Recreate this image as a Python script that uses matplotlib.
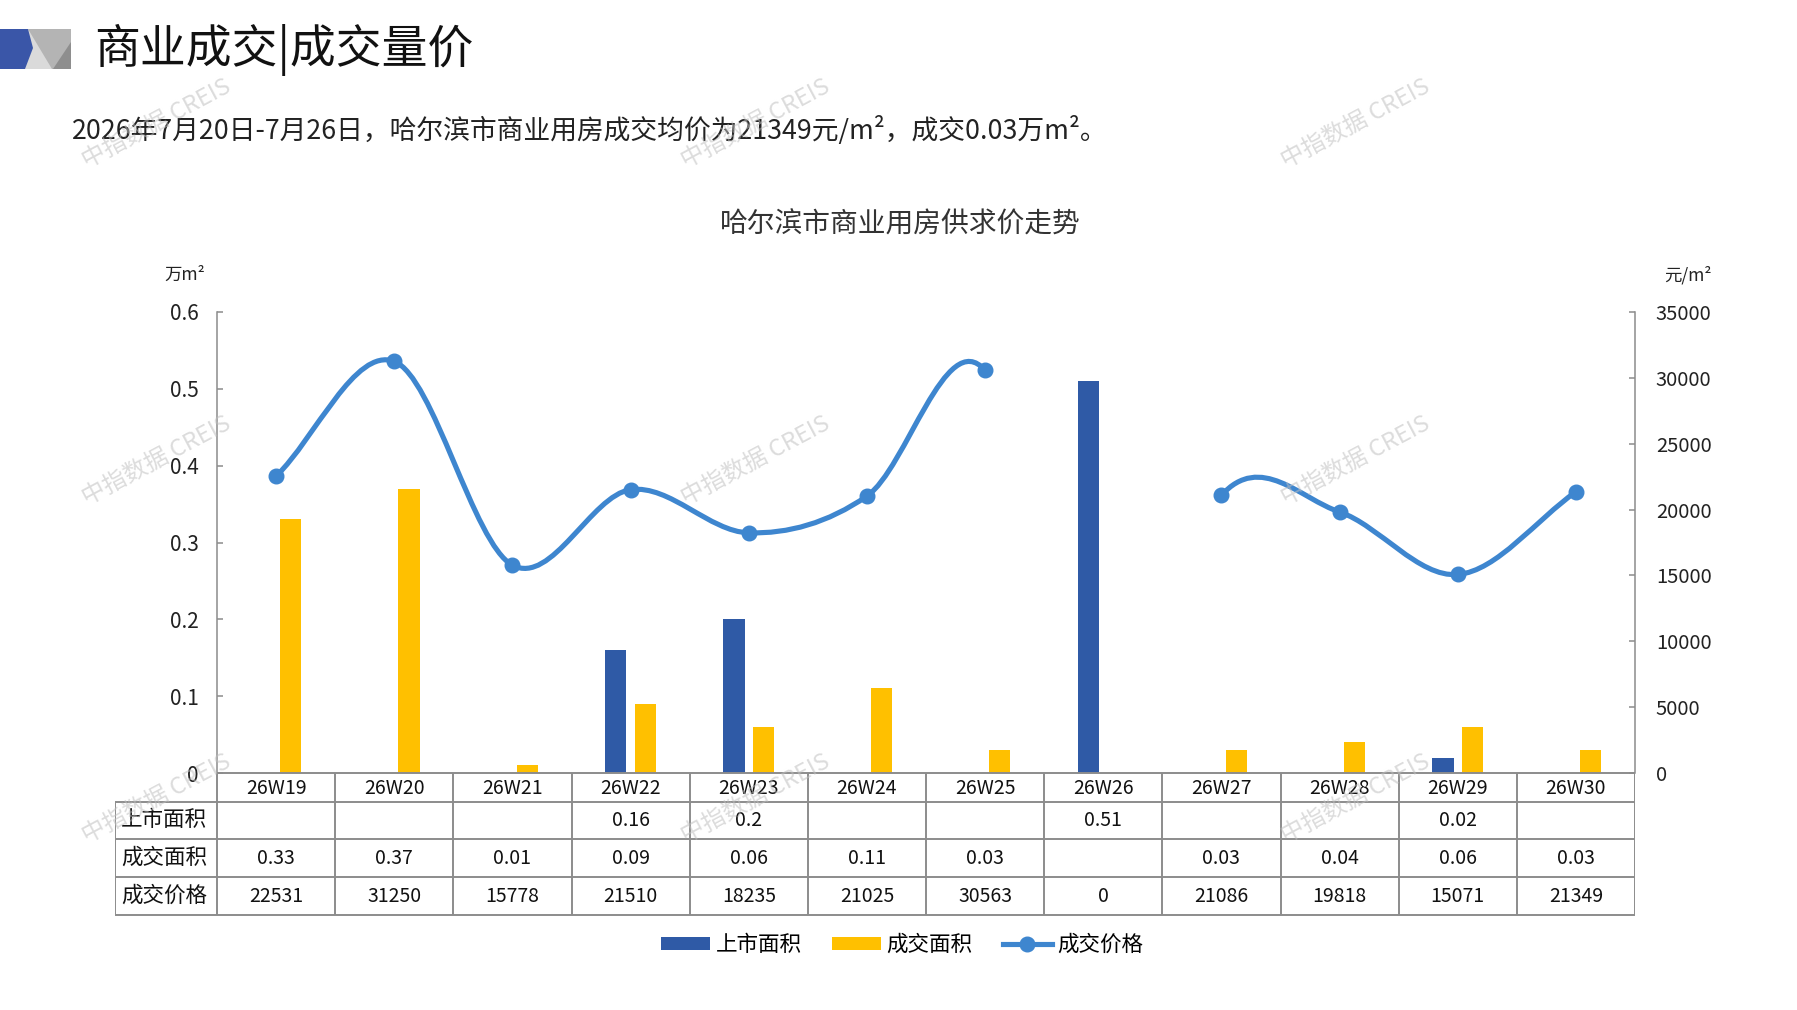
import numpy as np
import matplotlib
matplotlib.use('Agg')
import matplotlib.pyplot as plt
from matplotlib.path import Path
from matplotlib.patches import PathPatch, Polygon, Patch
from matplotlib.lines import Line2D

plt.rcParams['font.family'] = ['Noto Sans CJK SC', 'DejaVu Sans']

# ---------------- data ----------------
weeks = ['26W19', '26W20', '26W21', '26W22', '26W23', '26W24',
         '26W25', '26W26', '26W27', '26W28', '26W29', '26W30']
listed_area = [np.nan, np.nan, np.nan, 0.16, 0.2, np.nan, np.nan, 0.51, np.nan, np.nan, 0.02, np.nan]
deal_area = [0.33, 0.37, 0.01, 0.09, 0.06, 0.11, 0.03, np.nan, 0.03, 0.04, 0.06, 0.03]
deal_price = [22531, 31250, 15778, 21510, 18235, 21025, 30563, 0, 21086, 19818, 15071, 21349]
hidden_price_points = [7]          # plotted value 0 but line/marker hidden there
row_labels = ['上市面积', '成交面积', '成交价格']
left_ticks = [0, 0.1, 0.2, 0.3, 0.4, 0.5, 0.6]
left_tick_labels = ['0', '0.1', '0.2', '0.3', '0.4', '0.5', '0.6']
right_ticks = [0, 5000, 10000, 15000, 20000, 25000, 30000, 35000]
series_names = ['上市面积', '成交面积', '成交价格']

main_title = '商业成交|成交量价'
subtitle = '2026年7月20日-7月26日，哈尔滨市商业用房成交均价为21349元/m²，成交0.03万m²。'
chart_title = '哈尔滨市商业用房供求价走势'
left_unit = '万m²'
right_unit = '元/m²'
watermark = '中指数据 CREIS'

# ---------------- style ----------------
C_BLUE = '#2F5AA6'
C_YELLOW = '#FFC000'
C_LINE = '#3E86CF'
C_GRID = '#8C8C8C'

W, H = 1797, 1010
fig = plt.figure(figsize=(W / 100, H / 100), dpi=100)

# background pixel-space axes
bg = fig.add_axes([0, 0, 1, 1], zorder=0)
bg.set_xlim(0, W)
bg.set_ylim(H, 0)
bg.axis('off')

# header icon
bg.add_patch(Polygon([[28, 29], [71, 29], [71, 69], [25, 69]], closed=True, color='#DADADA', lw=0))
bg.add_patch(Polygon([[28, 29], [71, 29], [71, 45], [55, 69], [52, 69]], closed=True, color='#B4B4B4', lw=0))
bg.add_patch(Polygon([[71, 42], [71, 69], [53, 69]], closed=True, color='#8E8E8E', lw=0))
bg.add_patch(Polygon([[0, 29], [28, 29], [33, 48], [25, 69], [0, 69]], closed=True, color='#3A56A8', lw=0))

bg.text(94, 50, main_title, fontsize=33, va='center', ha='left', color='#111111')
bg.text(72, 130, subtitle, fontsize=19.3, va='center', ha='left', color='#222222')
bg.text(900, 225, chart_title, fontsize=20, va='center', ha='center', color='#333333')
bg.text(164, 275, left_unit, fontsize=12.5, va='center', ha='left', color='#222222')
bg.text(1664, 275, right_unit, fontsize=12.5, va='center', ha='left', color='#222222')

# ---------------- main axes ----------------
x0, x1, ytop, ybot = 217, 1635, 312, 773
ax = fig.add_axes([x0 / W, 1 - ybot / H, (x1 - x0) / W, (ybot - ytop) / H], zorder=2)
ax.patch.set_alpha(0)
ax2 = ax.twinx()

x = np.arange(len(weeks))
bw = 0.18
off = 0.125
ax.bar(x - off, np.array(listed_area, dtype=float), bw, color=C_BLUE, zorder=3)
ax.bar(x + off, np.array(deal_area, dtype=float), bw, color=C_YELLOW, zorder=3)

ax.set_xlim(-0.5, len(weeks) - 0.5)
ax.set_ylim(0, 0.6)
ax.set_yticks(left_ticks)
ax.set_yticklabels(left_tick_labels)
ax.set_xticks([])
ax2.set_ylim(0, 35000)
ax2.set_yticks(right_ticks)
ax2.set_yticklabels([str(v) for v in right_ticks])

for a in (ax, ax2):
    for s in ('top', 'bottom'):
        a.spines[s].set_visible(False)
    a.spines['left'].set_color(C_GRID)
    a.spines['right'].set_color(C_GRID)
    a.spines['left'].set_linewidth(1.1)
    a.spines['right'].set_linewidth(1.1)
ax.spines['right'].set_visible(False)
ax2.spines['left'].set_visible(False)
ax.tick_params(axis='y', direction='in', length=4, width=1.1, color=C_GRID,
               labelsize=15, pad=13, labelcolor='#222222')
ax2.tick_params(axis='y', direction='in', length=4, width=1.1, color=C_GRID,
                labelsize=14.5, pad=15, labelcolor='#222222')

# smoothed price line (Catmull-Rom style Bezier through the data points)
P = np.column_stack([x.astype(float), np.array(deal_price, dtype=float)])
n = len(P)
tang = np.zeros_like(P)
for i in range(n):
    if i == 0:
        tang[i] = (P[1] - P[0]) / 3
    elif i == n - 1:
        tang[i] = (P[-1] - P[-2]) / 3
    else:
        tang[i] = (P[i + 1] - P[i - 1]) / 6
verts, codes = [], []
pen_down = False
for i in range(n - 1):
    if i in hidden_price_points or (i + 1) in hidden_price_points:
        pen_down = False
        continue
    if not pen_down:
        verts.append(P[i]); codes.append(Path.MOVETO)
        pen_down = True
    verts += [P[i] + tang[i], P[i + 1] - tang[i + 1], P[i + 1]]
    codes += [Path.CURVE4] * 3
ax2.add_patch(PathPatch(Path(verts, codes), fill=False, edgecolor=C_LINE, lw=3.7,
                        capstyle='round', joinstyle='round', zorder=4))
mask = np.array([i not in hidden_price_points for i in range(n)])
ax2.plot(x[mask], np.array(deal_price, dtype=float)[mask], 'o', ms=10.5,
         color=C_LINE, zorder=5, lw=0)

# ---------------- data table ----------------
tleft = 115
cat_w = (x1 - x0) / len(weeks)
lab_w = (x0 - tleft) / cat_w
tb = fig.add_axes([tleft / W, 1 - 917 / H, (x1 - tleft) / W, (917 - 771) / H], zorder=3)
tb.set_xlim(-0.5 - lab_w, len(weeks) - 0.5)
tb.set_ylim(917, 771)
tb.axis('off')
rows_y = [773, 802, 839, 877, 915]
lx = -0.5 - lab_w
tb.plot([-0.5, len(weeks) - 0.5], [rows_y[0]] * 2, color=C_GRID, lw=1.4, solid_capstyle='butt')
for yy in rows_y[1:]:
    tb.plot([lx, len(weeks) - 0.5], [yy] * 2, color=C_GRID, lw=1.4, solid_capstyle='butt')
for k in range(len(weeks) + 1):
    tb.plot([-0.5 + k] * 2, [rows_y[0], rows_y[-1]], color=C_GRID, lw=1.4, solid_capstyle='butt')
tb.plot([lx] * 2, [rows_y[1], rows_y[-1]], color=C_GRID, lw=1.4, solid_capstyle='butt')

hy = (rows_y[0] + rows_y[1]) / 2 + 1
for i, w in enumerate(weeks):
    tb.text(i, hy, w, ha='center', va='center', fontsize=14, color='#111111')


def fmt(v):
    if v is None or (isinstance(v, float) and np.isnan(v)):
        return ''
    return str(v)


table_rows = [listed_area, deal_area, deal_price]
for r, (lab, vals) in enumerate(zip(row_labels, table_rows)):
    cy = (rows_y[r + 1] + rows_y[r + 2]) / 2
    tb.text(lx + 0.05, cy, lab, ha='left', va='center', fontsize=15.5, color='#111111')
    for i, v in enumerate(vals):
        tb.text(i, cy, fmt(v), ha='center', va='center', fontsize=14, color='#111111')

# ---------------- legend ----------------
handles = [Patch(facecolor=C_BLUE, edgecolor='none'),
           Patch(facecolor=C_YELLOW, edgecolor='none'),
           Line2D([0], [0], color=C_LINE, lw=3.7, marker='o', ms=10.5)]
fig.legend(handles, series_names, loc='center', bbox_to_anchor=(902 / W, 1 - 945 / H),
           ncol=3, frameon=False, fontsize=15.5, handlelength=2.3, handleheight=0.55,
           handletextpad=0.25, columnspacing=1.4)

# ---------------- watermarks ----------------
wm = fig.add_axes([0, 0, 1, 1], zorder=10)
wm.set_xlim(0, W)
wm.set_ylim(H, 0)
wm.axis('off')
for wy in (124, 461, 799):
    for wx in (157, 756, 1356):
        wm.text(wx, wy, watermark, fontsize=17, rotation=28, ha='center', va='center',
                color='#BFBFBF', alpha=0.55,
                family=['Noto Sans CJK SC', 'DejaVu Sans'])

fig.savefig('out.png', dpi=100)
